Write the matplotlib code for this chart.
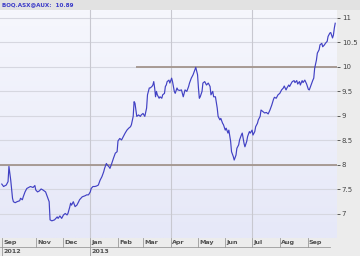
import numpy as np
import pandas as pd
import matplotlib
matplotlib.use('Agg')
import matplotlib.pyplot as plt
import matplotlib.transforms as mtransforms
from matplotlib.patches import Rectangle

# daily-ish closes, days counted from 24 Sep 2012
start = pd.Timestamp('2012-09-24')
days = [0, 2, 5, 7, 8, 10, 12, 13, 15, 17, 20, 21, 23, 24, 26, 28, 30, 32, 35, 37,
        38, 40, 42, 44, 46, 49, 51, 53, 54, 56, 59, 62, 63, 65, 67, 69, 71, 73, 74, 76,
        77, 78, 80, 82, 84, 86, 87, 90, 93, 95, 97, 99, 100, 102, 104, 106, 108, 110, 112, 114,
        115, 117, 118, 120, 121, 123, 125, 127, 129, 130, 132, 134, 136, 138, 140, 142, 144, 145, 147, 148,
        149, 150, 151, 153, 155, 156, 158, 160, 162, 163, 165, 166, 168, 169, 170, 171, 172, 173, 174, 176,
        177, 179, 180, 182, 183, 184, 185, 187, 188, 190, 191, 193, 194, 196, 197, 199, 201, 203, 205, 207,
        209, 210, 212, 214, 216, 217, 219, 220, 221, 222, 224, 225, 227, 229, 231, 233, 234, 236, 237, 239,
        241, 242, 244, 245, 247, 248, 250, 251, 253, 254, 256, 257, 259, 260, 262, 263, 265, 266, 268, 269,
        271, 272, 274, 275, 277, 278, 280, 281, 283, 284, 286, 287, 289, 290, 292, 294, 296, 298, 300, 302,
        304, 305, 307, 309, 311, 313, 315, 316, 318, 319, 321, 322, 324, 325, 327, 328, 330, 331, 333, 334,
        336, 337, 339, 341, 343, 344, 346, 348, 349, 350, 352, 353, 355, 356, 358, 359, 361, 362, 364, 365,
        367, 368, 370, 371, 372, 373]
price = [7.61, 7.56, 7.59, 7.66, 7.97, 7.69, 7.32, 7.25, 7.23, 7.25, 7.27, 7.32, 7.29, 7.35, 7.45, 7.52, 7.54, 7.56, 7.54, 7.58,
         7.49, 7.45, 7.47, 7.51, 7.49, 7.45, 7.35, 7.25, 6.88, 6.86, 6.88, 6.94, 6.91, 6.96, 6.91, 6.98, 7.01, 6.98, 7.01, 7.14,
         7.22, 7.18, 7.25, 7.15, 7.18, 7.25, 7.29, 7.35, 7.37, 7.39, 7.39, 7.45, 7.52, 7.56, 7.56, 7.57, 7.59, 7.69, 7.76, 7.86,
         7.93, 8.03, 8.00, 7.96, 7.93, 8.03, 8.14, 8.24, 8.27, 8.49, 8.54, 8.51, 8.58, 8.65, 8.71, 8.75, 8.78, 8.82, 8.99, 9.29,
         9.26, 9.12, 8.99, 9.02, 8.99, 9.02, 9.05, 8.99, 9.16, 9.43, 9.57, 9.57, 9.60, 9.63, 9.70, 9.57, 9.39, 9.50, 9.43, 9.36,
         9.39, 9.36, 9.43, 9.46, 9.60, 9.63, 9.70, 9.73, 9.67, 9.77, 9.70, 9.50, 9.46, 9.57, 9.53, 9.52, 9.53, 9.39, 9.53, 9.50,
         9.60, 9.67, 9.77, 9.84, 9.94, 9.99, 9.84, 9.57, 9.36, 9.39, 9.50, 9.67, 9.70, 9.63, 9.67, 9.60, 9.43, 9.50, 9.39, 9.39,
         9.16, 8.99, 8.92, 8.95, 8.85, 8.82, 8.71, 8.75, 8.65, 8.71, 8.48, 8.27, 8.17, 8.10, 8.20, 8.34, 8.41, 8.51, 8.61, 8.65,
         8.44, 8.37, 8.48, 8.58, 8.68, 8.65, 8.71, 8.61, 8.68, 8.78, 8.85, 8.92, 8.99, 9.12, 9.09, 9.06, 9.07, 9.04, 9.12, 9.22,
         9.34, 9.38, 9.36, 9.43, 9.46, 9.53, 9.57, 9.61, 9.53, 9.57, 9.63, 9.60, 9.67, 9.70, 9.72, 9.68, 9.72, 9.65, 9.70, 9.63,
         9.72, 9.68, 9.73, 9.65, 9.54, 9.53, 9.63, 9.73, 9.77, 9.97, 10.14, 10.28, 10.35, 10.45, 10.48, 10.41, 10.45, 10.48, 10.52, 10.62,
         10.69, 10.70, 10.59, 10.65, 10.79, 10.89]
ticker = 'BOQ.ASX@AUX:'

# horizontal support / resistance lines
levels = [8.0, 10.0]
level_from = ['2012-09-22', '2013-02-21']

month_ticks = ['2012-09-24', '2012-11-01', '2012-12-01', '2013-01-01', '2013-02-01', '2013-03-01',
               '2013-04-01', '2013-05-01', '2013-06-01', '2013-07-01', '2013-08-01', '2013-09-01']
month_names = ['Sep', 'Nov', 'Dec', 'Jan', 'Feb', 'Mar', 'Apr', 'May', 'Jun', 'Jul', 'Aug', 'Sep']
year_ticks = ['2012-09-24', '2013-01-01']
year_names = ['2012', '2013']
grid_dates = ['2013-01-01', '2013-04-01', '2013-07-01']
y_ticks = [7, 7.5, 8, 8.5, 9, 9.5, 10, 10.5, 11]

dates = start + pd.to_timedelta(days, unit='D')

fig = plt.figure(figsize=(3.6, 2.56), dpi=100, facecolor='#ececec')
# title band
fig.patches.append(Rectangle((0, 1 - 10 / 256), 1, 10 / 256, transform=fig.transFigure,
                             facecolor='#e2e2e2', edgecolor='none', zorder=0))
fig.text(0.006, 1 - 5 / 256, ticker + '  ' + f'{price[-1]:.2f}', color='#3a3ac8',
         fontsize=4.1, fontweight='bold', va='center', ha='left')

ax = fig.add_axes([0, 1 - 238 / 256, 337 / 360, 228 / 256])
ax.set_facecolor('#eef0fa')

# soft vertical gradient in the plot area
grad = np.linspace(0, 1, 100).reshape(-1, 1)
ax.imshow(grad, extent=[0, 1, 0, 1], transform=ax.transAxes, aspect='auto',
          cmap=matplotlib.colors.LinearSegmentedColormap.from_list('bg', ['#f6f7fd', '#e6e8f8']),
          origin='upper', zorder=0)

x0 = start - pd.Timedelta(days=2)
x1 = start + pd.Timedelta(days=375)
ax.set_xlim(x0, x1)
ax.set_ylim(6.51, 11.16)

for v in y_ticks:
    ax.axhline(v, color='#d6d7e0', lw=0.8, zorder=1)
for d in grid_dates:
    ax.axvline(pd.Timestamp(d), color='#c8c8d0', lw=0.8, zorder=1)

for lv, lf in zip(levels, level_from):
    ax.hlines(lv, pd.Timestamp(lf), x1, color='#a3958d', lw=1.3, zorder=2)

ax.plot(dates, price, color='#4141c4', lw=0.85, zorder=3)

for s in ax.spines.values():
    s.set_visible(False)

ax.yaxis.tick_right()
ax.set_yticks(y_ticks)
ax.set_yticklabels([f'{v:g}' for v in y_ticks])
ax.tick_params(axis='y', length=2.5, width=0.6, pad=1, labelsize=5, colors='#444444')
ax.set_xticks([])

# two-row date axis
tr = mtransforms.blended_transform_factory(ax.transData, ax.transAxes)
row1_top, row1_bot = 0.0, -8.5 / 228
row2_bot = -18 / 228
ax.plot([x0, x1 - pd.Timedelta(days=8)], [row1_bot, row1_bot], transform=tr,
        color='#9a9a9a', lw=0.6, clip_on=False)
for d, name in zip(month_ticks, month_names):
    t = pd.Timestamp(d)
    ax.plot([t, t], [row1_top, row1_bot], transform=tr, color='#9a9a9a', lw=0.6, clip_on=False)
    ax.text(t + pd.Timedelta(days=1.5), (row1_top + row1_bot) / 2, name, transform=tr,
            fontsize=4.6, fontweight='bold', color='#505050', ha='left', va='center', clip_on=False)
for d, name in zip(year_ticks, year_names):
    t = pd.Timestamp(d)
    ax.plot([t, t], [row1_bot, row2_bot], transform=tr, color='#9a9a9a', lw=0.6, clip_on=False)
    ax.text(t + pd.Timedelta(days=1.5), (row1_bot + row2_bot) / 2, name, transform=tr,
            fontsize=4.6, fontweight='bold', color='#505050', ha='left', va='center', clip_on=False)

fig.savefig('out.png', dpi=100, facecolor=fig.get_facecolor())
